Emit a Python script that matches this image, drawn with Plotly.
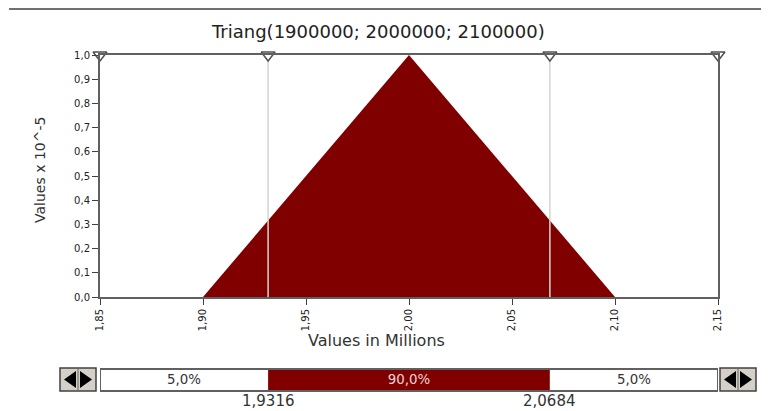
import plotly.graph_objects as go

# distribution (values in millions), density in units of 10^-5
dist_x = [1.90, 2.00, 2.10]
dist_y = [0.0, 1.0, 0.0]
x_ticks = [1.85, 1.90, 1.95, 2.00, 2.05, 2.10, 2.15]
y_ticks = [0.0, 0.1, 0.2, 0.3, 0.4, 0.5, 0.6, 0.7, 0.8, 0.9, 1.0]
x_min, x_max = 1.85, 2.15
pct_lo, pct_hi = 1.9316, 2.0684
pct_labels = ["5,0%", "90,0%", "5,0%"]

RED = "#800000"
FONT = "DejaVu Sans, Liberation Sans, sans-serif"

# the page body adds an 8px margin, so the figure is offset by 8px
OFF = 8
W, H = 769 - OFF, 411 - OFF
# plot box in page pixels
L, R, T, B = 100, 718, 55, 391


def px(x):
    return (x - L) / (R - L)


def py(y):
    return (B - y) / (B - T)


fig = go.Figure()

fig.add_trace(go.Scatter(x=dist_x, y=dist_y, fill="toself", mode="lines",
                         line=dict(color=RED, width=0), fillcolor=RED,
                         hoverinfo="skip", showlegend=False))

for xv in [pct_lo, pct_hi]:
    fig.add_trace(go.Scatter(x=[xv, xv], y=[0, 1], mode="lines",
                             line=dict(color="#d4d4d4", width=1.5),
                             hoverinfo="skip", showlegend=False))

fig.add_trace(go.Scatter(x=[x_min, pct_lo, pct_hi, x_max], y=[1, 1, 1, 1], mode="markers",
                         marker=dict(symbol="triangle-down", size=12, color="white",
                                     line=dict(color="#505050", width=1.5)),
                         cliponaxis=False, hoverinfo="skip", showlegend=False))

# percentile bar below the chart
seg_start = [x_min, pct_lo, pct_hi]
seg_end = [pct_lo, pct_hi, x_max]
seg_col = ["white", RED, "white"]
seg_txt_col = ["#333333", "#f0d4d4", "#333333"]
for s, e, c, t, tc in zip(seg_start, seg_end, seg_col, pct_labels, seg_txt_col):
    fig.add_trace(go.Bar(x=[e - s], base=[s], y=[0], orientation="h", yaxis="y2",
                         marker=dict(color=c, line=dict(width=0)), width=1,
                         text=[t], textposition="inside", insidetextanchor="middle",
                         textfont=dict(color=tc, size=15, family=FONT),
                         hoverinfo="skip", showlegend=False))

shapes = [
    # top rule
    dict(type="line", xref="paper", yref="paper", x0=px(9), x1=px(769), y0=py(9), y1=py(9),
         line=dict(color="#707070", width=2)),
    # bar border
    dict(type="rect", xref="x", yref="y2 domain", x0=x_min, x1=x_max, y0=0, y1=1,
         line=dict(color="#606060", width=2)),
]
for bx in [60, 720]:
    shapes.append(dict(type="rect", xref="paper", yref="paper", x0=px(bx), x1=px(bx + 36),
                       y0=py(391), y1=py(368), fillcolor="#d4d0c8",
                       line=dict(color="#404040", width=1.5)))
    shapes.append(dict(type="line", xref="paper", yref="paper", x0=px(bx + 18), x1=px(bx + 18),
                       y0=py(390), y1=py(369), line=dict(color="#606060", width=1)))
    lp = f"M {px(bx + 4)} {py(379.5)} L {px(bx + 16)} {py(371)} L {px(bx + 16)} {py(388)} Z"
    rp = f"M {px(bx + 32)} {py(379.5)} L {px(bx + 20)} {py(371)} L {px(bx + 20)} {py(388)} Z"
    for p in [lp, rp]:
        shapes.append(dict(type="path", xref="paper", yref="paper", path=p,
                           fillcolor="black", line=dict(color="black", width=0)))

annotations = [
    dict(text="Triang(1900000; 2000000; 2100000)", xref="paper", yref="paper",
         x=px(378), y=py(31), font=dict(size=18, color="#222222", family=FONT)),
    dict(text="Values x 10^-5", xref="paper", yref="paper", x=px(40), y=py(170),
         textangle=-90, font=dict(size=14, color="#333333", family=FONT)),
    dict(text="Values in Millions", xref="paper", yref="paper", x=px(376), y=py(340),
         font=dict(size=16, color="#333333", family=FONT)),
]
for v in [pct_lo, pct_hi]:
    annotations.append(dict(text=f"{v:.4f}".replace(".", ","), xref="x", yref="paper",
                            x=v, y=py(401), font=dict(size=15, color="#333333", family=FONT)))
for a in annotations:
    a.update(showarrow=False, xanchor="center", yanchor="middle")

fig.update_layout(
    width=W, height=H,
    margin=dict(l=L - OFF, r=W - (R - OFF), t=T - OFF, b=H - (B - OFF)),
    paper_bgcolor="white", plot_bgcolor="white",
    separators=",.",
    barmode="overlay",
    font=dict(family=FONT, color="#333333"),
    xaxis=dict(range=[x_min, x_max], tickvals=x_ticks, tickformat=".2f", tickangle=-90,
               showgrid=False, zeroline=False, showline=True, mirror=True,
               linecolor="#606060", linewidth=2, ticks="outside", ticklen=6,
               tickcolor="#404040", tickfont=dict(size=10, color="#222222", family=FONT),
               anchor="y"),
    yaxis=dict(range=[0, 1.0], tickvals=y_ticks, tickformat=".1f", domain=[py(297), 1],
               showgrid=False, zeroline=False, showline=True, mirror=True,
               linecolor="#606060", linewidth=2, ticks="outside", ticklen=6,
               tickcolor="#404040", tickfont=dict(size=10, color="#222222", family=FONT)),
    yaxis2=dict(domain=[0, py(369)], range=[-0.5, 0.5], visible=False, anchor="x"),
    shapes=shapes,
    annotations=annotations,
)

fig.write_html("out.html", config={"displayModeBar": False})
